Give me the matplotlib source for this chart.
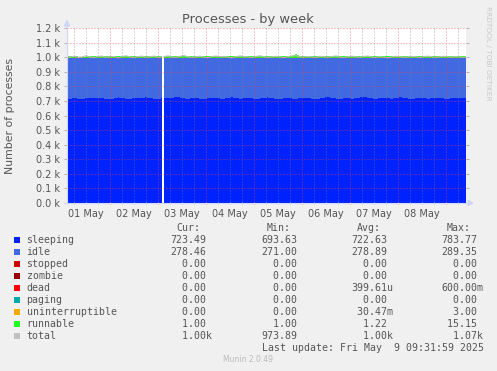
import numpy as np
import pandas as pd
import matplotlib
matplotlib.use("Agg")
import matplotlib.pyplot as plt
import matplotlib.dates as mdates
from matplotlib.patches import Polygon, Rectangle
from matplotlib.lines import Line2D
from matplotlib.ticker import MultipleLocator, FuncFormatter

W, H = 497, 371
nan = np.nan

# ---------------- data ----------------
seg1_start = "2025-05-01 02:00"
seg1_len = 25
gap_time = "2025-05-03 02:30"
seg2_start = "2025-05-03 03:00"
seg2_len = 77

sleeping = [721, 718, 724, 719, 716, 723, 727, 720, 722, 725, 717, 714, 721, 728, 724, 719, 718, 723, 726, 720,
            729, 724, 719, 716, 722,
            nan,
            726, 720, 724, 730, 727, 721, 718, 723, 725, 719,
            716, 722, 727, 724, 720, 718, 725, 729, 723, 719,
            721, 726, 722, 717, 720, 724, 728, 722, 719, 716,
            721, 725, 720, 718, 723, 727, 724, 719, 715, 721,
            726, 730, 724, 720, 717, 722, 725, 719, 721, 728,
            732, 726, 721, 718, 723, 727, 722, 719, 724, 729,
            725, 720, 717, 722, 726, 723, 719, 721, 727, 724,
            720, 718, 723, 726, 721, 724, 722]

idle = [280, 283, 276, 281, 284, 277, 274, 280, 279, 276, 284, 287, 279, 273, 277, 282, 283, 278, 275, 281,
        272, 277, 282, 285, 279,
        nan,
        275, 281, 277, 271, 274, 280, 283, 278, 276, 282,
        285, 279, 274, 277, 281, 283, 276, 272, 278, 282,
        280, 275, 279, 284, 281, 277, 273, 279, 282, 285,
        280, 276, 281, 283, 278, 274, 277, 282, 286, 280,
        275, 271, 277, 281, 284, 279, 276, 282, 280, 273,
        269, 275, 280, 283, 278, 274, 279, 282, 277, 272,
        276, 281, 284, 279, 275, 278, 282, 280, 274, 277,
        281, 283, 278, 275, 280, 277, 279]

runnable = [1, 1, 2, 1, 1, 1, 3, 1, 1, 1, 1, 2, 1, 1, 1, 1, 4, 1, 1, 1, 2, 1, 1, 1, 1,
            nan,
            1, 1, 1, 2, 1, 1, 1, 1, 3, 1,
            1, 1, 1, 2, 1, 1, 1, 1, 1, 5,
            1, 1, 1, 2, 1, 1, 1, 1, 1, 1,
            2, 1, 1, 15, 1, 1, 1, 1, 2, 1,
            1, 1, 1, 1, 3, 1, 1, 1, 1, 2,
            1, 1, 1, 1, 1, 1, 2, 1, 1, 1,
            4, 1, 1, 1, 1, 1, 2, 1, 1, 1,
            1, 1, 3, 1, 1, 1, 1]

total = [1003, 1000, 1006, 998, 1002, 1009, 1001, 997, 1004, 1008, 999, 1002, 1005, 996, 1003, 1010, 1001, 998,
         1004, 1007, 1000, 1003, 1008, 999, 1002,
         nan,
         1004, 1009, 1001, 998, 1006, 1011, 1002, 999, 1003, 1007,
         1000, 997, 1004, 1008, 1002, 1005, 1000, 996, 1003, 1009,
         1004, 1001, 998, 1005, 1010, 1003, 999, 1002, 1006, 1001,
         997, 1004, 1008, 1012, 1003, 1000, 1005, 1002, 998, 1006,
         1003, 1000, 1004, 1009, 1001, 997, 1003, 1007, 1002, 999,
         1005, 1008, 1001, 998, 1004, 1000, 996, 1002, 1006, 1003,
         999, 1001, 1005, 1002, 998, 1004, 1007, 1001, 999, 1003,
         1006, 1002, 1000, 1004, 1001, 998, 1003]

legend_names = ["sleeping", "idle", "stopped", "zombie", "dead", "paging",
                "uninterruptible", "runnable", "total"]
legend_colors = ["#0022FF", "#4169E1", "#CC0000", "#990000", "#FF0000", "#00AAAA",
                 "#FFA500", "#22FF22", "#C0C0C0"]
cur_vals = ["723.49", "278.46", "0.00", "0.00", "0.00", "0.00", "0.00", "1.00", "1.00k"]
min_vals = ["693.63", "271.00", "0.00", "0.00", "0.00", "0.00", "0.00", "1.00", "973.89"]
avg_vals = ["722.63", "278.89", "0.00", "0.00", "399.61u", "0.00", "30.47m", "1.22", "1.00k"]
max_vals = ["783.77", "289.35", "0.00", "0.00", "600.00m", "0.00", "3.00", "15.15", "1.07k"]

title = "Processes - by week"
ylabel = "Number of processes"
last_update = "Last update: Fri May  9 09:31:59 2025"
xlim = ("2025-05-01 02:30", "2025-05-09 10:00")

times = (pd.date_range(seg1_start, periods=seg1_len, freq="2h")
         .append(pd.DatetimeIndex([gap_time]))
         .append(pd.date_range(seg2_start, periods=seg2_len, freq="2h")))

# ---------------- figure ----------------
fig = plt.figure(figsize=(W / 100, H / 100), dpi=100, facecolor="#F0F0F0")


def fx(x):
    return x / W


def fy(y):
    return 1 - y / H


L, R, T, B = 67, 466, 28, 203
ax = fig.add_axes([fx(L), fy(B), (R - L) / W, (B - T) / H])
ax.set_facecolor("white")

sl = np.array(sleeping, float)
idl = np.array(idle, float)
run = np.array(runnable, float)
ax.stackplot(times, sl, idl, run, colors=["#0022FF", "#4169E1", "#22FF22"],
             linewidth=0, antialiased=False, zorder=1)
ax.plot(times, total, color="#C0C0C0", lw=0.8, zorder=1.5)

ax.set_xlim(pd.Timestamp(xlim[0]), pd.Timestamp(xlim[1]))
ax.set_ylim(0, 1200)

# grid
ax.set_axisbelow(False)
ax.xaxis.set_major_locator(mdates.DayLocator())
ax.xaxis.set_major_formatter(FuncFormatter(lambda v, p: ""))
ax.xaxis.set_minor_locator(mdates.HourLocator(byhour=[0, 6, 12, 18]))


def minor_fmt(v, p):
    d = mdates.num2date(v)
    return d.strftime("%d %b") if d.hour == 12 else ""


ax.xaxis.set_minor_formatter(FuncFormatter(minor_fmt))
ax.yaxis.set_major_locator(MultipleLocator(100))
ax.yaxis.set_major_formatter(FuncFormatter(lambda v, p: f"{v/1000:.1f} k"))

dash = (0, (1.4, 1.4))
ax.grid(True, which="major", axis="both", color="#FF4040", alpha=0.3, lw=0.72,
        linestyle=dash, antialiased=False)
ax.grid(True, which="minor", axis="x", color="#808080", alpha=0.3, lw=0.72,
        linestyle=dash, antialiased=False)

for s in ax.spines.values():
    s.set_visible(False)

ax.tick_params(axis="x", which="major", length=2, color="#FF8080", width=0.7, direction="inout")
ax.tick_params(axis="x", which="minor", length=2, color="#B0B0B0", width=0.7, direction="inout",
               labelsize=7, labelcolor="#555555", pad=3)
ax.tick_params(axis="y", which="major", length=2, color="#B0B0B0", width=0.7, direction="out",
               labelsize=7, labelcolor="#555555", pad=3, right=True, labelright=False)
for t in ax.yaxis.get_major_ticks():
    t.tick2line.set_color("#FF8080")

# axes lines + arrows
axis_col = "#CFD6F8"
fig.add_artist(Line2D([fx(L), fx(L)], [fy(B + 1), fy(24)], color=axis_col, lw=0.8))
fig.add_artist(Line2D([fx(L - 3), fx(470)], [fy(B + 0.5), fy(B + 0.5)], color=axis_col, lw=0.8))
fig.add_artist(Polygon([[fx(64.5), fy(26)], [fx(69.5), fy(26)], [fx(67), fy(20.5)]],
                       closed=True, color=axis_col, transform=fig.transFigure))
fig.add_artist(Polygon([[fx(468), fy(200.5)], [fx(468), fy(205.5)], [fx(473), fy(203)]],
                       closed=True, color=axis_col, transform=fig.transFigure))

# texts
fig.text(fx(248), fy(19), title, ha="center", va="center", fontsize=9.4, color="#555555")
fig.text(fx(10), fy(115.5), ylabel, ha="center", va="center", rotation=90, fontsize=7.8,
         color="#555555")
fig.text(fx(488), fy(6), "RRDTOOL / TOBI OETIKER", ha="center", va="top", rotation=270,
         fontsize=5.3, color="#C8C8C8")

# legend
mono = "DejaVu Sans Mono"
fs = 7.1
tc = "#555555"
cols_x = [170.2, 260.9, 351.0, 441.0]
fig.text(fx(176), fy(228), "Cur:", fontsize=fs, family=mono, color=tc, va="center", ha="left")
fig.text(fx(266.5), fy(228), "Min:", fontsize=fs, family=mono, color=tc, va="center", ha="left")
fig.text(fx(356.7), fy(228), "Avg:", fontsize=fs, family=mono, color=tc, va="center", ha="left")
fig.text(fx(446.7), fy(228), "Max:", fontsize=fs, family=mono, color=tc, va="center", ha="left")


def fmt(s):
    if s[-1].isalpha():
        return s[:-1].rjust(6) + s[-1]
    return s.rjust(6)


for i, (name, col) in enumerate(zip(legend_names, legend_colors)):
    y = 240 + 11.96 * i
    fig.add_artist(Rectangle((fx(14), fy(y + 3)), 6 / W, 6 / H, transform=fig.transFigure,
                             facecolor=col, edgecolor="none"))
    fig.text(fx(26.5), fy(y), name, fontsize=fs, family=mono, color=tc, va="center", ha="left")
    for cx, vals in zip(cols_x, [cur_vals, min_vals, avg_vals, max_vals]):
        fig.text(fx(cx), fy(y), fmt(vals[i]), fontsize=fs, family=mono, color=tc,
                 va="center", ha="left")

fig.text(fx(261.7), fy(347.7), last_update, fontsize=fs, family=mono, color=tc,
         va="center", ha="left")
fig.text(fx(248), fy(360), "Munin 2.0.49", fontsize=5.5, color="#BBBBBB", ha="center", va="center")

fig.savefig("out.png", dpi=100, facecolor=fig.get_facecolor())
